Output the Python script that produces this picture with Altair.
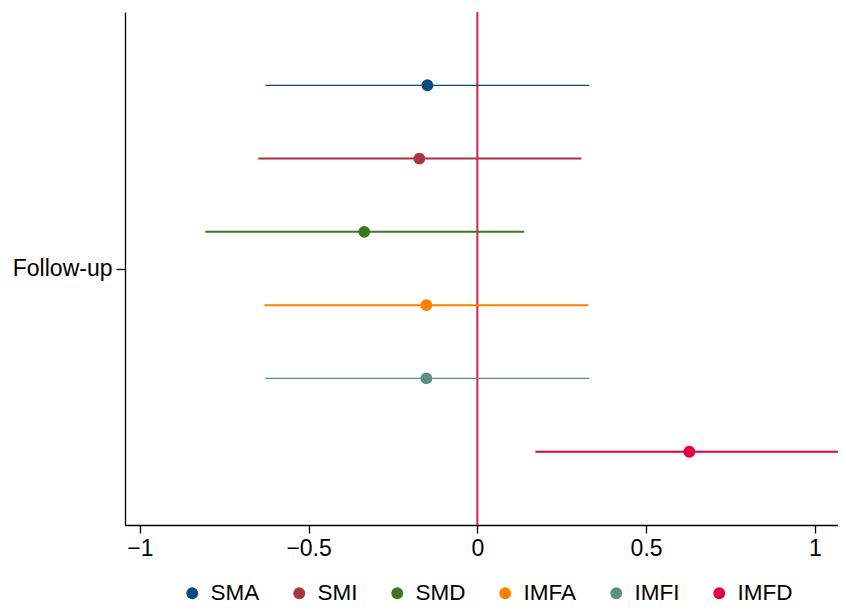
import altair as alt
import pandas as pd

names = ["SMA", "SMI", "SMD", "IMFA", "IMFI", "IMFD"]
estimates = [-0.148, -0.172, -0.335, -0.151, -0.151, 0.628]
lower = [-0.628, -0.649, -0.806, -0.631, -0.628, 0.172]
upper = [0.332, 0.308, 0.139, 0.329, 0.332, 1.083]
positions = [1, 2, 3, 4, 5, 6]
line_widths = [1.2, 2, 2, 2, 1.2, 2]
colors = ["#0b4c7c", "#a8343e", "#3d7524", "#ff8000", "#5b9083", "#e8003a"]
x_ticks = [-1, -0.5, 0, 0.5, 1]

df = pd.DataFrame({
    "name": names, "est": estimates, "lo": lower, "hi": upper,
    "pos": positions, "sw": line_widths,
})

xscale = alt.Scale(domain=[-1.044, 1.0686], nice=False, zero=False)
yscale = alt.Scale(domain=[7, 0], nice=False, zero=False)
cscale = alt.Scale(domain=names, range=colors)

legend = alt.Legend(title=None, orient="none", direction="horizontal",
                    columns=6, gridAlign="none", legendX=56, legendY=570,
                    symbolType="circle", symbolSize=140, labelFontSize=22.5,
                    labelOffset=7, columnPadding=28, padding=0,
                    labelFont="Liberation Sans", labelColor="#000000",
                    symbolStrokeWidth=0)

base = alt.Chart(df)

ci = base.mark_rule().encode(
    x=alt.X("lo:Q", scale=xscale, title=None,
            axis=alt.Axis(values=x_ticks, format="~g", grid=False)),
    x2="hi:Q",
    y=alt.Y("pos:Q", scale=yscale, title=None,
            axis=alt.Axis(values=[3.5], labelExpr="'Follow-up'", grid=False)),
    color=alt.Color("name:N", scale=cscale, sort=names, legend=legend),
    strokeWidth=alt.StrokeWidth("sw:Q", scale=None),
)

pts = base.mark_point(filled=True, opacity=1, size=140).encode(
    x=alt.X("est:Q", scale=xscale),
    y=alt.Y("pos:Q", scale=yscale),
    color=alt.Color("name:N", scale=cscale, sort=names, legend=legend),
)

zero = alt.Chart(pd.DataFrame({"z": [0]})).mark_rule(color="#dc1e52", strokeWidth=2).encode(
    x=alt.X("z:Q", scale=xscale)
)

chart = alt.layer(zero, ci, pts).properties(
    width=713, height=513,
    autosize=alt.AutoSizeParams(type="none"),
    padding={"left": 117, "top": 4, "right": 0, "bottom": 83},
).configure_view(stroke=None).configure_axis(
    domainColor="#000000", domainWidth=1.3, tickColor="#000000", tickWidth=1.3,
    tickSize=8, labelFontSize=23, labelFont="Liberation Sans", labelColor="#000000",
    labelPadding=4,
).configure_axisY(tickSize=9, labelPadding=4)

chart.save("out.html", embed_options={"renderer": "svg", "actions": False})
